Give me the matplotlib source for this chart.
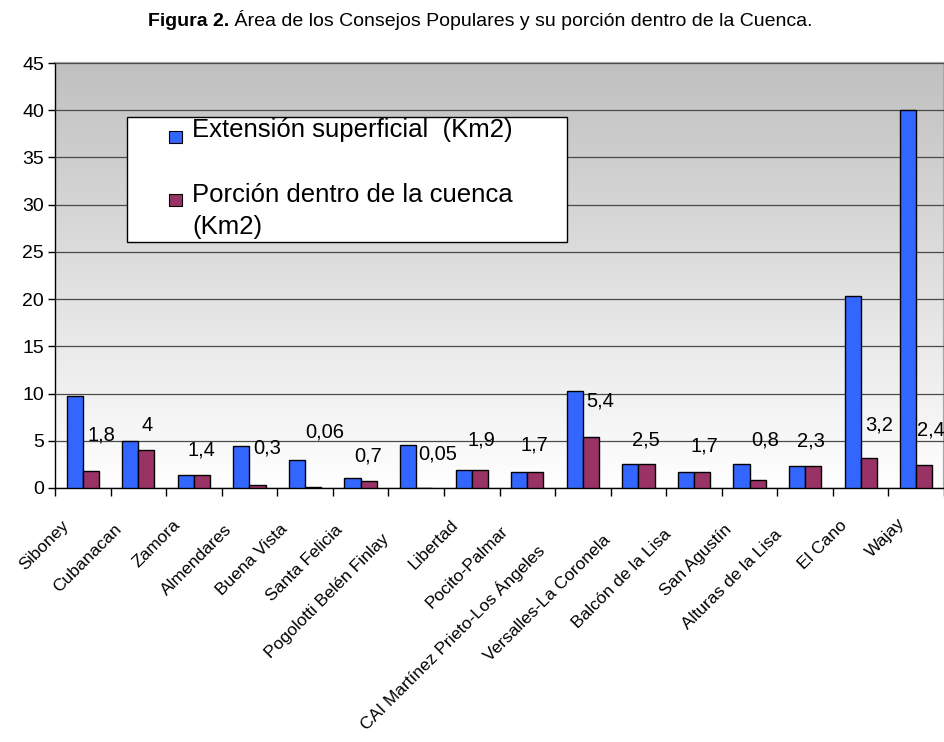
import numpy as np
import matplotlib
matplotlib.use("Agg")
import matplotlib.pyplot as plt
import matplotlib.transforms as mtransforms
from matplotlib.patches import Rectangle
from matplotlib.textpath import TextPath
from matplotlib.font_manager import FontProperties
from matplotlib.colors import LinearSegmentedColormap

# ---------------- data ----------------
categories = ["Siboney", "Cubanacan", "Zamora", "Almendares", "Buena Vista",
              "Santa Felicia", "Pogolotti Belén Finlay", "Libertad", "Pocito-Palmar",
              "CAI Martínez Prieto-Los Ángeles", "Versalles-La Coronela",
              "Balcón de la Lisa", "San Agustín", "Alturas de la Lisa", "El Cano", "Wajay"]
extension = [9.7, 5.0, 1.4, 4.4, 3.0, 1.1, 4.6, 1.9, 1.7, 10.3, 2.5, 1.7, 2.5, 2.3, 20.3, 40.0]
porcion = [1.8, 4, 1.4, 0.3, 0.06, 0.7, 0.05, 1.9, 1.7, 5.4, 2.5, 1.7, 0.8, 2.3, 3.2, 2.4]
series_names = ["Extensión superficial  (Km2)", "Porción dentro de la cuenca\n(Km2)"]
yticks = [0, 5, 10, 15, 20, 25, 30, 35, 40, 45]

# ---------------- layout / style ----------------
label_dx = [0.34, 0.16, 0.13, 0.32, 0.36, 0.13, 0.38, 0.18, 0.13, 0.31, 0.14, 0.18, 0.29, 0.11, 0.34, 0.27]
label_y = [5.6, 6.6, 4.0, 4.2, 5.9, 3.4, 3.6, 5.1, 4.6, 9.2, 5.1, 4.4, 5.1, 5.0, 6.7, 6.1]
BLUE = "#3366FF"
RED = "#993366"
FONT = "Liberation Sans"
W, H, DPI = 945, 742, 100

plt.rcParams["font.family"] = [FONT, "DejaVu Sans"]

fig = plt.figure(figsize=(W / DPI, H / DPI), dpi=DPI)
ax_l, ax_r, ax_t, ax_b = 55, 944, 63, 488
ax = fig.add_axes([ax_l / W, 1 - ax_b / H, (ax_r - ax_l) / W, (ax_b - ax_t) / H])

n = len(categories)
x = np.arange(n)
bw = 0.29

# gradient background
cmap = LinearSegmentedColormap.from_list("g", ["#ffffff", "#c0c0c0"])
grad = np.linspace(0, 1, 256)[:, None]
ax.imshow(grad, extent=[-0.5, n - 0.5, 0, 45], origin="lower", aspect="auto",
          cmap=cmap, zorder=0, interpolation="bicubic")

ax.bar(x - bw / 2, extension, width=bw, color=BLUE, edgecolor="black", linewidth=1.0, zorder=3)
ax.bar(x + bw / 2, porcion, width=bw, color=RED, edgecolor="black", linewidth=1.0, zorder=3)

ax.set_xlim(-0.5, n - 0.5)
ax.set_ylim(0, 45)
ax.set_yticks(yticks)
ax.set_yticklabels([str(v) for v in yticks], fontsize=14)
ax.yaxis.grid(True, color="#4a4a4a", linewidth=0.9, zorder=1)
ax.set_axisbelow(False)
for gl in ax.get_ygridlines():
    gl.set_zorder(1)
ax.tick_params(axis="y", direction="out", length=5, width=1, color="black", pad=3)

ax.set_xticks(x)
ax.tick_params(axis="x", which="major", length=0, labelbottom=False)
ax.set_xticks(np.arange(n + 1) - 0.5, minor=True)
ax.tick_params(axis="x", which="minor", direction="out", length=6, width=1, color="black")

for s in ["left", "bottom"]:
    ax.spines[s].set_color("black")
    ax.spines[s].set_linewidth(1.0)
for s in ["top", "right"]:
    ax.spines[s].set_color("#a8a8a8")
    ax.spines[s].set_linewidth(1.6)

# data labels
for i, v in enumerate(porcion):
    ax.text(i + label_dx[i], label_y[i], f"{v:g}".replace(".", ","), ha="center", va="center",
            fontsize=14.5, zorder=5)

# rotated category labels
XT = 12.5
fp = FontProperties(family=FONT, size=XT)
for i, lab in enumerate(categories):
    L = TextPath((0, 0), lab, prop=fp).get_extents().width * DPI / 72
    s = 5 + 0.13 * L
    off = mtransforms.ScaledTranslation((-3 - s) / DPI, -(22 + s) / DPI, fig.dpi_scale_trans)
    ax.text(i, 0, lab, transform=ax.get_xaxis_transform() + off, rotation=45,
            rotation_mode="anchor", ha="right", va="center", fontsize=XT, clip_on=False)

# legend (box drawn in axes coords)
def ax_xy(px, py):
    return ((px - ax_l) / (ax_r - ax_l), (ax_b - py) / (ax_b - ax_t))

x0, y0 = ax_xy(127, 242)
x1, y1 = ax_xy(567, 117)
ax.add_patch(Rectangle((x0, y0), x1 - x0, y1 - y0, transform=ax.transAxes, facecolor="white",
                       edgecolor="black", linewidth=1.0, zorder=6))
LG = 18.5
entries = [(131, [137], BLUE, series_names[0]), (194, [202, 234], RED, series_names[1])]
for (sq_top, bases, col, name) in entries:
    sx0, sy0 = ax_xy(169, sq_top + 12)
    sx1, sy1 = ax_xy(182, sq_top)
    ax.add_patch(Rectangle((sx0, sy0), sx1 - sx0, sy1 - sy0, transform=ax.transAxes,
                           facecolor=col, edgecolor="black", linewidth=0.8, zorder=7))
    for line, base in zip(name.split("\n"), bases):
        tx, ty = ax_xy(192, base)
        ax.text(tx, ty, line, transform=ax.transAxes, ha="left", va="baseline", fontsize=LG,
                zorder=7)

# title
t1 = fig.text(148 / W, 1 - 26 / H, "Figura 2.", fontsize=14, fontweight="bold", ha="left", va="baseline")
fig.canvas.draw()
ax.annotate(" Área de los Consejos Populares y su porción dentro de la Cuenca.", xy=(1, 0),
            xycoords=t1, ha="left", va="bottom", fontsize=14, annotation_clip=False)

fig.savefig("out.png", dpi=DPI)
